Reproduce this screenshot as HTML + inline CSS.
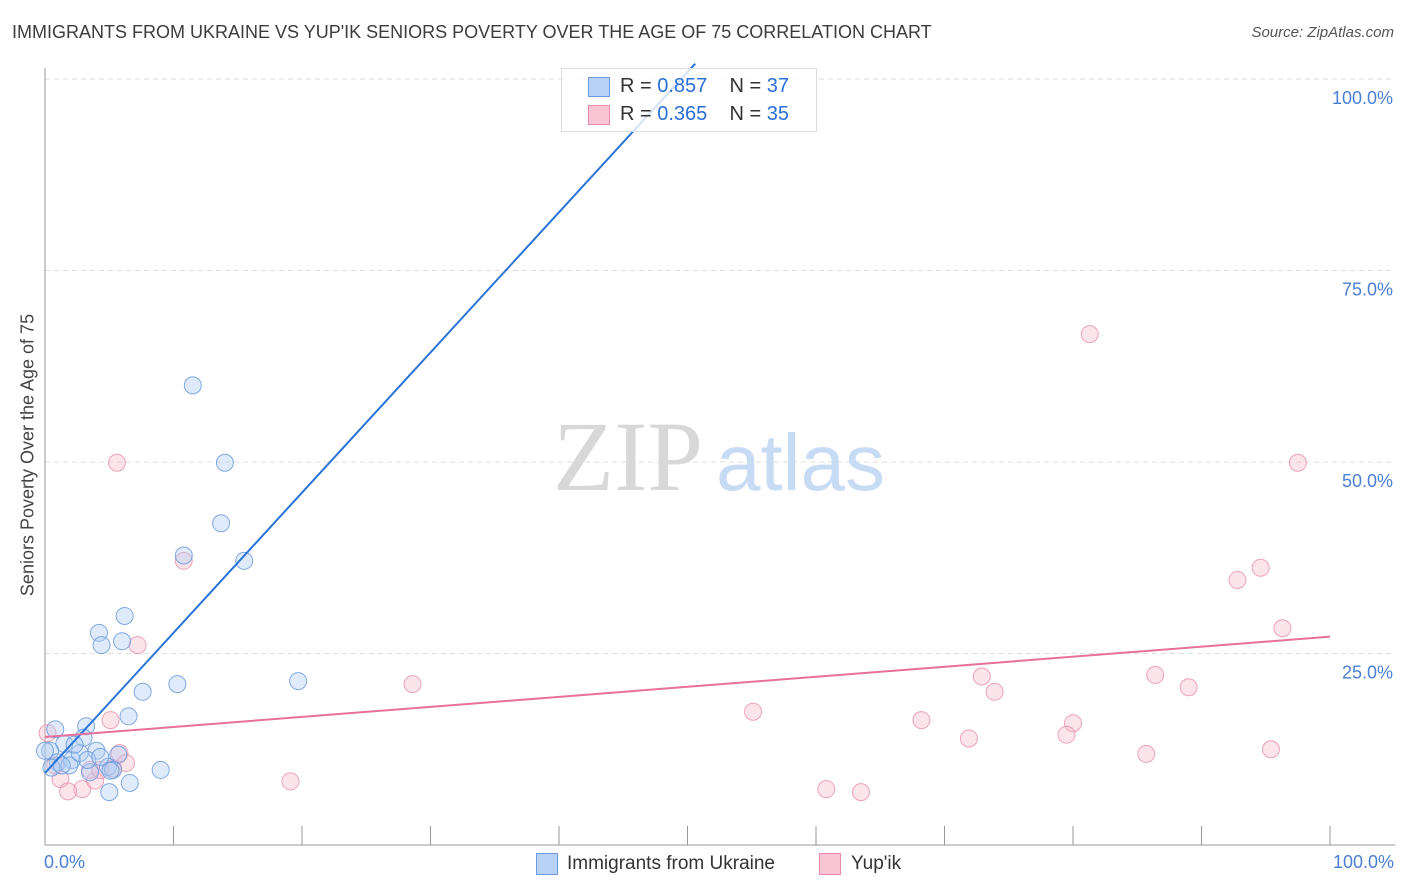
<!DOCTYPE html>
<html><head><meta charset="utf-8">
<style>
body{margin:0;background:#fff;font-family:"Liberation Sans",sans-serif;}
#wrap{position:relative;width:1406px;height:892px;overflow:hidden;}
.t{position:absolute;white-space:nowrap;}
</style></head>
<body>
<div id="wrap">
<div class="t" style="left:12px;top:22px;font-size:18px;color:#3c3c3c;">IMMIGRANTS FROM UKRAINE VS YUP'IK SENIORS POVERTY OVER THE AGE OF 75 CORRELATION CHART</div>
<div class="t" style="right:12px;top:24px;font-size:15px;color:#555;font-style:italic;">Source: ZipAtlas.com</div>
<div class="t" style="left:28px;top:455px;font-size:18px;color:#444;transform:translate(-50%,-50%) rotate(-90deg);">Seniors Poverty Over the Age of 75</div>
<svg id="svg" width="1406" height="892" style="position:absolute;left:0;top:0"></svg>
</div>
<script>
const blueX=[11.5,14,13.7,10.8,15.5,6.2,4.2,4.4,6,7.6,10.3,19.7,6.5,0.8,3.2,3,1.5,0.4,4,5.7,1,2.1,4.9,5.3,9,1.9,0.5,3.5,5.1,6.6,5,0,2.7,1.3,3.3,4.3,2.3];
const blueY=[60,49.9,42,37.8,37.1,29.9,27.7,26.1,26.6,20,21,21.4,16.8,15.1,15.5,14,13.2,12.3,12.3,11.8,10.8,11.1,10.2,9.8,9.8,10.4,10.1,9.5,9.7,8.1,6.9,12.3,12,10.4,11.1,11.5,13.1];
const pinkX=[5.6,81.3,97.5,10.8,94.6,92.8,96.3,7.2,28.6,72.9,86.4,73.9,89,5.1,55.1,68.2,80,71.9,79.5,85.7,95.4,19.1,60.8,63.5,0.2,5.8,1.2,2.9,3.9,5.3,1.8,3.5,6.3,0.8,4.3];
const pinkY=[49.9,66.7,49.9,37.1,36.2,34.6,28.3,26.1,21,22,22.2,20,20.6,16.3,17.4,16.3,15.9,13.9,14.4,11.9,12.5,8.3,7.3,6.9,14.6,12.0,8.6,7.3,8.4,10.0,7.0,9.8,10.7,10.4,9.8];
const blueFit=[9.4,1.83], pinkFit=[14.1,0.131];
const yTicks=[25,50,75,100];
const X=v=>45+v*12.85, Y=v=>845-v*7.66;
const svg=document.getElementById('svg');
const NS='http://www.w3.org/2000/svg';
function mk(t,a){const e=document.createElementNS(NS,t);for(const k in a)e.setAttribute(k,a[k]);svg.appendChild(e);return e;}
yTicks.forEach(v=>{
 const g=mk('line',{x1:45,x2:1395,y1:Y(v),y2:Y(v),stroke:'#ddd','stroke-dasharray':'5,4'});
 
 
 const t=mk('text',{x:1393,y:Y(v)+25,'text-anchor':'end','font-size':18,fill:'#4a7fd4','font-family':'Liberation Sans'});
 t.textContent=v.toFixed(1)+'%';
 
 
});
let a=mk('line',{x1:45,x2:45,y1:68,y2:845,stroke:'#999'});


a=mk('line',{x1:45,x2:1395,y1:845,y2:845,stroke:'#999'});


for(let i=0;i<=10;i++){const l=mk('line',{x1:X(i*10),x2:X(i*10),y1:826,y2:845,stroke:'#999'});
 
 }
const wm=mk('text',{x:553,y:490,'font-size':100,fill:'#d8d8d8','font-family':'Liberation Serif'});wm.textContent='ZIP';


const wm2=mk('text',{x:716,y:490,'font-size':80,fill:'#c8dbf4','font-family':'Liberation Sans'});wm2.textContent='atlas';


function dots(xs,ys,fill,stroke,name){xs.forEach((x,i)=>{const c=mk('circle',{cx:X(x),cy:Y(ys[i]),r:8.5,fill:fill,'fill-opacity':0.4,stroke:stroke,'stroke-width':1,'stroke-opacity':0.8});
 
 });}
dots(pinkX,pinkY,'#f8bccd','#e88fab','yupik-point');
dots(blueX,blueY,'#b0cdf2','#6496dc','ukraine-point');
const bx2=(102-blueFit[0])/blueFit[1];
let l=mk('line',{x1:X(0),y1:Y(blueFit[0]),x2:X(bx2),y2:Y(102),stroke:'#2a74d8','stroke-width':2});


l=mk('line',{x1:X(0),y1:Y(pinkFit[0]),x2:X(100),y2:Y(pinkFit[0]+pinkFit[1]*100),stroke:'#e8709a','stroke-width':2});


</script>
<div style="position:absolute;left:561px;top:68px;width:254px;height:62px;background:rgba(255,255,255,0.8);border:1px solid #ddd;">
 <div style="position:absolute;left:26px;top:8px;width:20px;height:18px;background:#b7d2f5;border:1px solid #6a9be0;"></div>
 <div class="t" style="left:58px;top:6px;font-size:20px;color:#333;">R = <span style="color:#2a6fd6">0.857</span>&nbsp;&nbsp;&nbsp; N = <span style="color:#2a6fd6">37</span></div>
 <div style="position:absolute;left:26px;top:36px;width:20px;height:18px;background:#f9c5d4;border:1px solid #e88aa8;"></div>
 <div class="t" style="left:58px;top:34px;font-size:20px;color:#333;">R = <span style="color:#2a6fd6">0.365</span>&nbsp;&nbsp;&nbsp; N = <span style="color:#2a6fd6">35</span></div>
</div>
<div class="t" style="left:44px;top:852px;font-size:18px;color:#4a7fd4;">0.0%</div>
<div class="t" style="right:12px;top:852px;font-size:18px;color:#4a7fd4;">100.0%</div>
<div style="position:absolute;left:536px;top:853px;width:20px;height:20px;background:#b7d2f5;border:1px solid #6a9be0;"></div>
<div class="t" style="left:567px;top:853px;font-size:19px;color:#333;">Immigrants from Ukraine</div>
<div style="position:absolute;left:819px;top:853px;width:20px;height:20px;background:#f9c5d4;border:1px solid #e88aa8;"></div>
<div class="t" style="left:851px;top:853px;font-size:19px;color:#333;">Yup'ik</div>
</body></html>
